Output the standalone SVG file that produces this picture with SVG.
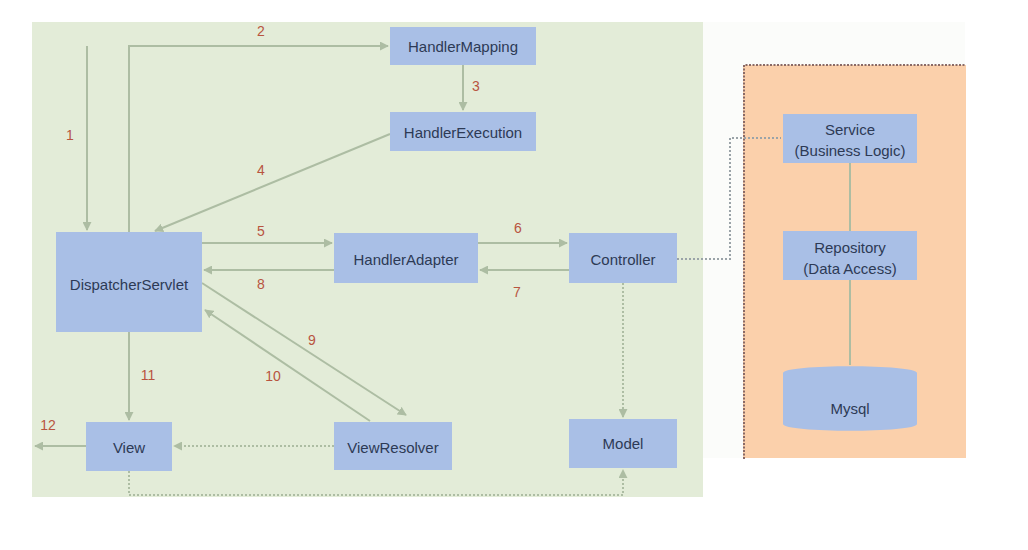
<svg xmlns="http://www.w3.org/2000/svg" width="1028" height="550" viewBox="0 0 1028 550">
<defs>
<style>
.node{fill:#a9bfe6;}
.t{font-family:"Liberation Sans",Arial,sans-serif;font-size:15px;fill:#2d3a55;text-anchor:middle;dominant-baseline:central;}
.n{font-family:"Liberation Sans",Arial,sans-serif;font-size:14px;fill:#b8543f;text-anchor:middle;dominant-baseline:central;}
.ln{fill:none;stroke:#adbda3;stroke-width:2;}
.dot{fill:none;stroke:#adbda3;stroke-width:2;stroke-dasharray:2 2;}
.dotg{fill:none;stroke:#9aa3a8;stroke-width:2;stroke-dasharray:2 2;}
</style>
<marker id="a" viewBox="0 0 10 10" refX="9" refY="5" markerWidth="4.5" markerHeight="4.5" orient="auto"><path d="M0,0 L10,5 L0,10 Z" fill="#adbda3"/></marker>
</defs>
<rect x="0" y="0" width="1028" height="550" fill="#ffffff"/>
<rect x="32" y="22" width="671" height="475" fill="#e3ecd8"/>
<rect x="703" y="22" width="262" height="436" fill="#fbfcfa"/>
<g id="backend">
<rect x="743" y="65" width="223" height="393" fill="#fbd0ab"/>
<path d="M744,459 V65 H966" fill="none" stroke="#8a6a66" stroke-width="2" stroke-dasharray="2 1.5"/>
</g>
<g id="connectors">
<path class="ln" d="M87,46 V230" marker-end="url(#a)"/>
<path class="ln" d="M129,232 V46 H388" marker-end="url(#a)"/>
<path class="ln" d="M463,65 V110" marker-end="url(#a)"/>
<path class="ln" d="M390,134 L155,231" marker-end="url(#a)"/>
<path class="ln" d="M202,243 H332" marker-end="url(#a)"/>
<path class="ln" d="M334,270 H204" marker-end="url(#a)"/>
<path class="ln" d="M478,243 H567" marker-end="url(#a)"/>
<path class="ln" d="M569,270 H480" marker-end="url(#a)"/>
<path class="ln" d="M202,283 L406,415" marker-end="url(#a)"/>
<path class="ln" d="M370,421 L205,310" marker-end="url(#a)"/>
<path class="ln" d="M129,332 V420" marker-end="url(#a)"/>
<path class="ln" d="M86,446 H35" marker-end="url(#a)"/>
<path class="dot" d="M334,446 H174" marker-end="url(#a)"/>
<path class="dot" d="M623,283 V417" marker-end="url(#a)"/>
<path class="dot" d="M129,471 V495 H623 V470" marker-end="url(#a)"/>
<path class="dotg" d="M677,259 H730 V138 H781"/>
<path class="ln" d="M850,163 V231"/>
<path class="ln" d="M850,280 V365"/>
</g>
<g id="labels">
<text class="n" x="70" y="135">1</text>
<text class="n" x="261" y="31">2</text>
<text class="n" x="476" y="86">3</text>
<text class="n" x="261" y="170">4</text>
<text class="n" x="261" y="231">5</text>
<text class="n" x="518" y="228">6</text>
<text class="n" x="517" y="292">7</text>
<text class="n" x="261" y="284">8</text>
<text class="n" x="312" y="340">9</text>
<text class="n" x="273" y="376">10</text>
<text class="n" x="148" y="375">11</text>
<text class="n" x="48" y="425">12</text>
</g>
<g id="HandlerMapping"><rect class="node" x="390" y="27" width="146" height="38"/><text class="t" x="463" y="46">HandlerMapping</text></g>
<g id="HandlerExecution"><rect class="node" x="390" y="112" width="146" height="39"/><text class="t" x="463" y="132">HandlerExecution</text></g>
<g id="DispatcherServlet"><rect class="node" x="56" y="232" width="146" height="100"/><text class="t" x="129" y="284">DispatcherServlet</text></g>
<g id="HandlerAdapter"><rect class="node" x="334" y="233" width="144" height="50"/><text class="t" x="406" y="259">HandlerAdapter</text></g>
<g id="Controller"><rect class="node" x="569" y="233" width="108" height="50"/><text class="t" x="623" y="259">Controller</text></g>
<g id="View"><rect class="node" x="86" y="422" width="86" height="49"/><text class="t" x="129" y="447">View</text></g>
<g id="ViewResolver"><rect class="node" x="334" y="422" width="118" height="48"/><text class="t" x="393" y="447">ViewResolver</text></g>
<g id="Model"><rect class="node" x="569" y="419" width="108" height="49"/><text class="t" x="623" y="443">Model</text></g>
<g id="Service"><rect class="node" x="783" y="114" width="134" height="49"/><text class="t" x="850" y="129">Service</text><text class="t" x="850" y="150">(Business Logic)</text></g>
<g id="Repository"><rect class="node" x="783" y="231" width="134" height="49"/><text class="t" x="850" y="247">Repository</text><text class="t" x="850" y="268">(Data Access)</text></g>
<g id="Mysql"><path class="node" d="M783,373 C783,364 917,364 917,373 V424 C917,433 783,433 783,424 Z"/><text class="t" x="850" y="408">Mysql</text></g>
</svg>
